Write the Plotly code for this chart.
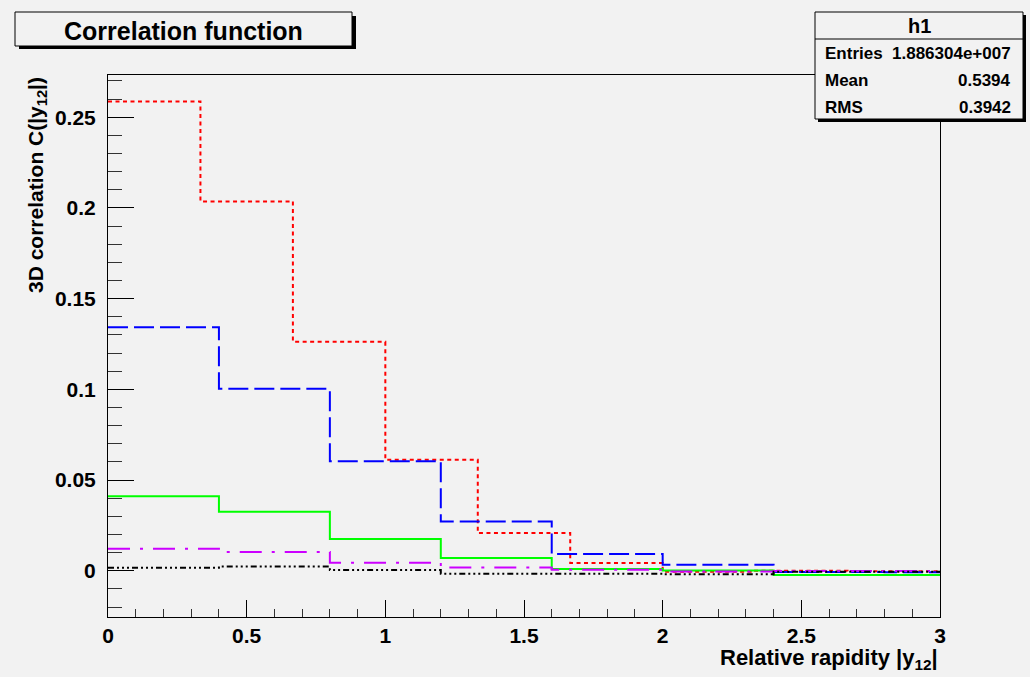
import plotly.graph_objects as go

# ---------------- data ----------------
red_edges = [0, 1/3, 2/3, 1.0, 4/3, 5/3, 2.0, 7/3, 8/3, 3.0]
red_vals = [0.2587, 0.2036, 0.1262, 0.0612, 0.0208, 0.0043, -0.0006, 0.0000, -0.0003]

edges04 = [0, 0.4, 0.8, 1.2, 1.6, 2.0, 2.4, 2.8, 3.0]
blue_vals = [0.1343, 0.1003, 0.0603, 0.0272, 0.0092, 0.0033, -0.0007, -0.0008]
green_vals = [0.0410, 0.0325, 0.0175, 0.0070, 0.0010, 0.0002, -0.0024, -0.0024]
magenta_vals = [0.0121, 0.0103, 0.0044, 0.0018, 0.0006, -0.0004, -0.0002, -0.0002]
black_vals = [0.0017, 0.0024, 0.0004, -0.0017, -0.0017, -0.0020, -0.0006, -0.0006]

title_text = "Correlation function"
stats_name = "h1"
stats_rows = [("Entries", "1.886304e+007"), ("Mean", "0.5394"), ("RMS", "0.3942")]
x_title = "Relative rapidity |y<sub>12</sub>|"
y_title = "3D correlation C(|y<sub>12</sub>|)"

# ---------------- layout geometry ----------------
W, H = 1030, 677
L, R, T, B = 108, 940, 75, 617
BG = "#f2f2f2"
FONT = "Liberation Sans"


def px(x):
    return (x - L) / (R - L)


def py(y):
    return (B - y) / (B - T)


fig = go.Figure()

series = [
    (red_edges, red_vals, "#ff0000", "4px,3.5px"),
    (edges04, blue_vals, "#0000ff", "20px,6px"),
    (edges04, green_vals, "#00ff00", "solid"),
    (edges04, magenta_vals, "#cc00ff", "22px,10px,3px,10px"),
    (edges04, black_vals, "#000000", "6px,3px,2px,3px,2px,3px,2px,3px"),
]
for edges, vals, col, dash in series:
    fig.add_trace(go.Scatter(
        x=edges, y=list(vals) + [vals[-1]],
        mode="lines", line=dict(color=col, width=2, dash=dash, shape="hv"),
        showlegend=False, hoverinfo="skip"))

tickfont = dict(family=FONT, size=21, color="black", weight="bold")

fig.update_xaxes(
    range=[0, 3], showgrid=False, zeroline=False,
    showline=True, linecolor="black", linewidth=1, mirror=True,
    ticks="inside", ticklen=17, tickcolor="black", dtick=0.5, tick0=0,
    minor=dict(ticks="inside", ticklen=8, dtick=0.1, tickcolor="#333333", showgrid=False),
    tickfont=tickfont, ticklabelstandoff=0)
fig.update_yaxes(
    range=[-0.0255, 0.2733], showgrid=False, zeroline=False,
    showline=True, linecolor="black", linewidth=1, mirror=True,
    ticks="inside", ticklen=26, tickcolor="black", dtick=0.05, tick0=0,
    minor=dict(ticks="inside", ticklen=14, dtick=0.01, tickcolor="#333333", showgrid=False),
    tickfont=tickfont, ticklabelstandoff=7)

shapes = []
annotations = []

# title box
shapes.append(dict(type="rect", xref="paper", yref="paper",
                   x0=px(19), x1=px(356), y0=py(49), y1=py(16),
                   fillcolor="black", line=dict(width=0), layer="above"))
shapes.append(dict(type="rect", xref="paper", yref="paper",
                   x0=px(15), x1=px(352), y0=py(46), y1=py(12),
                   fillcolor=BG, line=dict(color="black", width=1), layer="above"))
annotations.append(dict(text=title_text, xref="paper", yref="paper",
                        x=px(183), y=py(31), xanchor="center", yanchor="middle",
                        showarrow=False,
                        font=dict(family=FONT, size=25, color="black", weight="bold")))

# stats box
shapes.append(dict(type="rect", xref="paper", yref="paper",
                   x0=px(818), x1=px(1026), y0=py(122), y1=py(15),
                   fillcolor="black", line=dict(width=0), layer="above"))
shapes.append(dict(type="rect", xref="paper", yref="paper",
                   x0=px(815), x1=px(1023), y0=py(119), y1=py(12),
                   fillcolor=BG, line=dict(color="black", width=1), layer="above"))
shapes.append(dict(type="line", xref="paper", yref="paper",
                   x0=px(815), x1=px(1023), y0=py(39), y1=py(39),
                   line=dict(color="black", width=1), layer="above"))
sfont = dict(family=FONT, size=17, color="black", weight="bold")
annotations.append(dict(text=stats_name, xref="paper", yref="paper",
                        x=px(919), y=py(26), xanchor="center", yanchor="middle",
                        showarrow=False, font=dict(family=FONT, size=20, color="black", weight="bold")))
row_y = [53, 81, 108]
for (lab, val), yy in zip(stats_rows, row_y):
    annotations.append(dict(text=lab, xref="paper", yref="paper",
                            x=px(823), y=py(yy), xanchor="left", yanchor="middle",
                            showarrow=False, font=sfont))
    annotations.append(dict(text=val, xref="paper", yref="paper",
                            x=px(1013), y=py(yy), xanchor="right", yanchor="middle",
                            showarrow=False, font=sfont))

# axis titles
afont = dict(family=FONT, size=22, color="black", weight="bold")
annotations.append(dict(text=x_title, xref="paper", yref="paper",
                        x=1.0, y=py(643), xanchor="right", yanchor="top",
                        showarrow=False, font=afont))
annotations.append(dict(text=y_title, xref="paper", yref="paper",
                        x=px(22), y=1.0, xanchor="left", yanchor="top",
                        textangle=-90, showarrow=False,
                        font=dict(family=FONT, size=21, color="black", weight="bold")))

fig.update_layout(
    width=W, height=H,
    margin=dict(l=L, r=W - R, t=T, b=H - B, pad=0),
    paper_bgcolor=BG, plot_bgcolor=BG,
    shapes=shapes, annotations=annotations,
    showlegend=False)

fig.write_html("out.html",
               config={"displayModeBar": False},
               post_script="document.body.style.margin='0';document.body.style.padding='0';")
